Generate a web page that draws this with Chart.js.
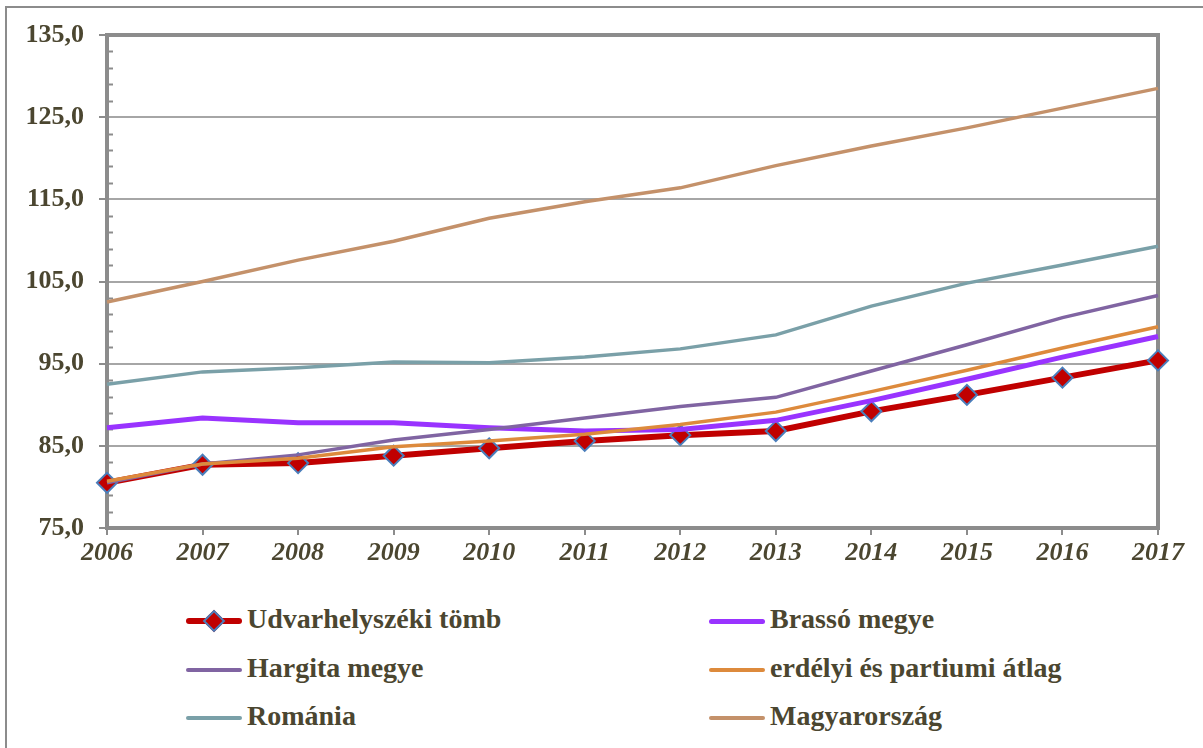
<!DOCTYPE html>
<html>
<head>
<meta charset="utf-8">
<script src="https://cdn.jsdelivr.net/npm/chart.js@4/dist/chart.umd.min.js"></script>
<style>
  body { margin: 0; background: #fff; }
  #wrap { position: relative; width: 1203px; height: 748px; overflow: hidden; }
  #frame { position: absolute; left: 5px; top: 6px; width: 1300px; height: 900px; border: 2px solid #8c8c8c; }
  #c { position: absolute; left: 0; top: 0; }
  .leg { position: absolute; font-family: 'Liberation Serif'; font-weight: bold; font-size: 28px; color: #4b4630; white-space: nowrap; }
  .leg .ln { position: absolute; left: 0; height: 4px; width: 56px; border-radius: 3px; }
  .leg .dm { position: absolute; left: 20px; width: 12px; height: 12px; transform: rotate(45deg); border: 2px solid #4a7ebb; background: #c00000; }
  .leg span { position: absolute; left: 61px; top: -18px; }
</style>
</head>
<body>
<div id="wrap">
  <div id="frame"></div>
  <canvas id="c" width="1203" height="580"></canvas>
  <div id="legend"></div>
</div>
<script>
var years = ['2006','2007','2008','2009','2010','2011','2012','2013','2014','2015','2016','2017'];
var udvarhely = [80.5, 82.7, 82.9, 83.8, 84.7, 85.6, 86.3, 86.8, 89.2, 91.2, 93.3, 95.4];
var brasso = [87.2, 88.4, 87.8, 87.8, 87.2, 86.8, 87.0, 88.1, 90.5, 93.1, 95.8, 98.3];
var hargita = [80.5, 82.8, 83.9, 85.7, 87.0, 88.4, 89.8, 90.9, 94.1, 97.3, 100.6, 103.3];
var erdelyi = [80.7, 82.8, 83.5, 84.9, 85.6, 86.4, 87.6, 89.1, 91.6, 94.2, 96.9, 99.5];
var romania = [92.5, 94.0, 94.5, 95.2, 95.1, 95.8, 96.8, 98.5, 102.0, 104.8, 107.0, 109.3];
var magyar = [102.5, 105.0, 107.6, 109.9, 112.7, 114.7, 116.4, 119.1, 121.5, 123.7, 126.1, 128.5];

var txt = '#4b4630';
var font = "'Liberation Serif'";

var series = [
  { label: 'Udvarhelyszéki tömb', data: udvarhely, color: '#c00000', w: 6, marker: true, order: 5 },
  { label: 'Brassó megye', data: brasso, color: '#9933ff', w: 5, order: 4 },
  { label: 'Hargita megye', data: hargita, color: '#8064a2', w: 3.5, order: 3 },
  { label: 'erdélyi és partiumi átlag', data: erdelyi, color: '#dd8a3c', w: 3.5, order: 2 },
  { label: 'Románia', data: romania, color: '#7aa0a8', w: 3.5, order: 1 },
  { label: 'Magyarország', data: magyar, color: '#c4916a', w: 3.5, order: 0 }
];

var datasets = series.map(function (s) {
  return {
    label: s.label,
    data: s.data,
    borderColor: s.color,
    backgroundColor: s.color,
    borderWidth: s.w,
    pointRadius: s.marker ? 10 : 0,
    pointStyle: 'rectRot',
    pointBackgroundColor: '#c00000',
    pointBorderColor: '#4a7ebb',
    pointBorderWidth: 2,
    tension: 0,
    clip: false,
    order: s.order
  };
});

// plot frame and the little inward minor ticks on the y axis
var framePlugin = {
  id: 'frame',
  beforeDatasetsDraw: function (chart) {
    var a = chart.chartArea, ctx = chart.ctx, y = chart.scales.y;
    ctx.save();
    ctx.strokeStyle = '#8c8c8c';
    ctx.lineWidth = 2;
    for (var v = y.min + 2; v < y.max; v += 2) {
      if ((v - 75) % 10 === 0) continue;
      var py = Math.round(y.getPixelForValue(v)) + 0.5;
      ctx.beginPath();
      ctx.moveTo(a.left, py);
      ctx.lineTo(a.left + 6, py);
      ctx.stroke();
    }
    ctx.lineWidth = 4;
    ctx.strokeRect(a.left, a.top, a.right - a.left, a.bottom - a.top);
    ctx.restore();
  }
};

function draw() {
  new Chart(document.getElementById('c'), {
    type: 'line',
    data: { labels: years, datasets: datasets },
    options: {
      responsive: false,
      animation: false,
      layout: { padding: { top: 35, right: 45, left: 0, bottom: 0 } },
      plugins: { legend: { display: false }, tooltip: { enabled: false } },
      scales: {
        x: {
          offset: false,
          grid: { drawOnChartArea: false, drawTicks: true, tickLength: 7, tickColor: '#8c8c8c', lineWidth: 2 },
          border: { display: false },
          ticks: { color: txt, font: { family: font, size: 26, weight: 'bold', style: 'italic' }, padding: 3, maxRotation: 0 },
          afterFit: function (s) { s.height = 52; }
        },
        y: {
          min: 75, max: 135,
          grid: { color: '#a6a6a6', lineWidth: 2, tickLength: 8, tickColor: '#8c8c8c' },
          border: { display: false },
          ticks: {
            stepSize: 10,
            color: txt,
            font: { family: font, size: 26, weight: 'bold' },
            padding: 15,
            callback: function (v) { return v.toFixed(1).replace('.', ','); }
          },
          afterFit: function (s) { s.width = 107; }
        }
      }
    },
    plugins: [framePlugin]
  });

  // legend in two columns under the plot
  var legend = document.getElementById('legend');
  var cols = [186, 709];
  var rows = [621, 670, 718];
  series.forEach(function (s, i) {
    var d = document.createElement('div');
    d.className = 'leg';
    d.style.left = cols[i % 2] + 'px';
    d.style.top = rows[Math.floor(i / 2)] + 'px';
    var h = s.marker ? 6 : (s.w > 4 ? 5 : 4);
    var html = '<div class="ln" style="background:' + s.color + ';height:' + h + 'px;top:' + (-h / 2) + 'px"></div>';
    if (s.marker) html += '<div class="dm" style="top:-8px"></div>';
    html += '<span>' + s.label + '</span>';
    d.innerHTML = html;
    legend.appendChild(d);
  });
}

Promise.all([
  document.fonts.load("bold 26px 'Liberation Serif'"),
  document.fonts.load("italic bold 26px 'Liberation Serif'")
]).then(draw, draw);
</script>
</body>
</html>
